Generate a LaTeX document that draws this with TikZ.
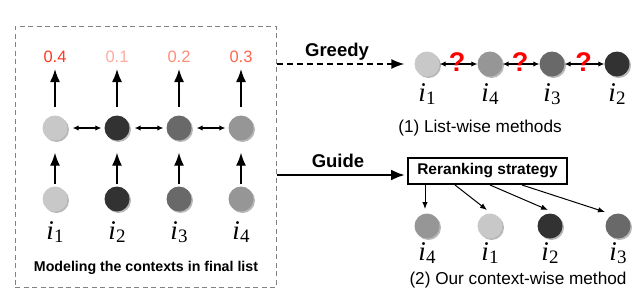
\documentclass[tikz,border=0pt]{standalone}
\usepackage{fontspec}
\setmainfont{Liberation Sans}
\newfontfamily\tms{Liberation Serif}
\usetikzlibrary{arrows.meta,shadows}
\definecolor{cA}{RGB}{200,200,200}
\definecolor{cB}{RGB}{50,50,50}
\definecolor{cC}{RGB}{105,105,105}
\definecolor{cD}{RGB}{150,150,150}
\definecolor{vA}{RGB}{255,55,30}
\definecolor{vB}{RGB}{255,170,160}
\definecolor{vC}{RGB}{255,140,120}
\definecolor{vD}{RGB}{255,100,75}
\definecolor{frameg}{RGB}{130,130,130}
\newcommand{\itemlbl}[1]{{\tms\fontsize{27}{27}\selectfont\itshape i\kern0.3pt\raisebox{-3pt}{\upshape\fontsize{19}{19}\selectfont #1}}}
\begin{document}
\begin{tikzpicture}[x=1pt,y=-1pt,
  ball/.style={circle,minimum size=25pt,inner sep=0pt,fill=#1,
    drop shadow={shadow xshift=1.5pt,shadow yshift=-1.5pt,opacity=0.28,fill=black}},
  lab/.style={inner sep=0pt},
  val/.style={font=\fontsize{16.5}{16.5}\selectfont,text=#1,inner sep=0pt},
  uparrow/.style={-{Latex[length=13pt,width=10pt]},line width=1.4pt},
  dbl/.style={{Latex[length=6pt,width=5.5pt]}-{Latex[length=6pt,width=5.5pt]},line width=1.1pt},
  qmark/.style={font=\fontsize{27}{27}\selectfont\bfseries,text=red,inner sep=0pt},
  small/.style={-{Latex[length=7pt,width=5.5pt]},line width=1pt},
  caption/.style={font=\fontsize{17.2}{17.2}\selectfont,inner sep=0pt},
  bold/.style={font=\fontsize{18.5}{18.5}\selectfont\bfseries,inner sep=0pt},
]
\useasboundingbox (0,0) rectangle (640,290);
% left frame
\node[draw=frameg,dash pattern=on 5pt off 3.5pt,line width=1pt,minimum width=261pt,minimum height=261pt,inner sep=0pt] (frame) at (145.5,156.5) {};
% values
\node[val=vA] (v1) at (55,57) {0.4};
\node[val=vB] (v2) at (117,57) {0.1};
\node[val=vC] (v3) at (179,57) {0.2};
\node[val=vD] (v4) at (241,57) {0.3};
% middle circles
\node[ball=cA] (m1) at (55,128) {};
\node[ball=cB] (m2) at (117,128) {};
\node[ball=cC] (m3) at (179,128) {};
\node[ball=cD] (m4) at (241,128) {};
% bottom circles
\node[ball=cA] (b1) at (55,199) {};
\node[ball=cB] (b2) at (117,199) {};
\node[ball=cC] (b3) at (179,199) {};
\node[ball=cD] (b4) at (241,199) {};
% labels
\node[lab] (l1) at (55,232) {\itemlbl{1}};
\node[lab] (l2) at (117,232) {\itemlbl{2}};
\node[lab] (l3) at (179,232) {\itemlbl{3}};
\node[lab] (l4) at (241,232) {\itemlbl{4}};
\node[font=\fontsize{14.2}{14.2}\selectfont\bfseries,inner sep=0pt] (cap0) at (146,268) {Modeling the contexts in final list};
% arrows
\foreach \k in {1,...,4}{
  \draw[uparrow] ([yshift=8pt]m\k.north) -- ([yshift=-6pt]v\k.south);
  \draw[uparrow] ([yshift=2pt]b\k.north) -- ([yshift=-12pt]m\k.south);
}
\draw[dbl] ([xshift=5pt]m1.east) -- ([xshift=-3pt]m2.west);
\draw[dbl] ([xshift=5pt]m2.east) -- ([xshift=-3pt]m3.west);
\draw[dbl] ([xshift=5pt]m3.east) -- ([xshift=-3pt]m4.west);

% list-wise
\node[ball=cA] (g1) at (427,64) {};
\node[ball=cD] (g2) at (490,64) {};
\node[ball=cC] (g3) at (552,64) {};
\node[ball=cB] (g4) at (617,64) {};
\node[lab] (gl1) at (427,94) {\itemlbl{1}};
\node[lab] (gl2) at (490,94) {\itemlbl{4}};
\node[lab] (gl3) at (552,94) {\itemlbl{3}};
\node[lab] (gl4) at (617,94) {\itemlbl{2}};
\draw[dbl] (g1.east) -- (g2.west);
\draw[dbl] (g2.east) -- (g3.west);
\draw[dbl] (g3.east) -- (g4.west);
\node[qmark] (q1) at (457,62) {?};
\node[qmark] (q2) at (520,62) {?};
\node[qmark] (q3) at (583.5,62) {?};
\node[caption] (cap1) at (480,128) {(1) List-wise methods};
\node[bold] (greedy) at (337,52) {Greedy};
\draw[dash pattern=on 6pt off 4pt,line width=1.5pt,-{Latex[length=13pt,width=10pt]}] (frame.east |- g1) -- ([xshift=-10pt]g1.west);

% context-wise
\node[draw,line width=2pt,minimum width=159pt,minimum height=26pt,inner sep=0pt,font=\fontsize{15.5}{15.5}\selectfont\bfseries] (R) at (487.5,171) {Reranking strategy};
\node[bold] (guide) at (338,161) {Guide};
\draw[line width=2.5pt,-{Latex[length=14pt,width=11pt]}] (frame.east |- 0,175) -- ([xshift=-2pt]R.west |- 0,175);
\node[ball=cD] (c1) at (427,226) {};
\node[ball=cA] (c2) at (490,226) {};
\node[ball=cB] (c3) at (550,226) {};
\node[ball=cC] (c4) at (618,226) {};
\node[lab] (cl1) at (427,253) {\itemlbl{4}};
\node[lab] (cl2) at (490,253) {\itemlbl{1}};
\node[lab] (cl3) at (550,253) {\itemlbl{2}};
\node[lab] (cl4) at (618,253) {\itemlbl{3}};
\node[caption] (cap2) at (518,280) {(2) Our context-wise method};
\draw[small] (R.south west -| 425,0) -- ([shift={(-2,-17)}]c1.center);
\draw[small] (R.south west -| 455,0) -- ([shift={(-3,-16)}]c2.center);
\draw[small] (R.south west -| 490,0) -- ([shift={(-2,-16)}]c3.center);
\draw[small] (R.south west -| 522,0) -- ([shift={(-13,-14)}]c4.center);
\end{tikzpicture}
\end{document}
